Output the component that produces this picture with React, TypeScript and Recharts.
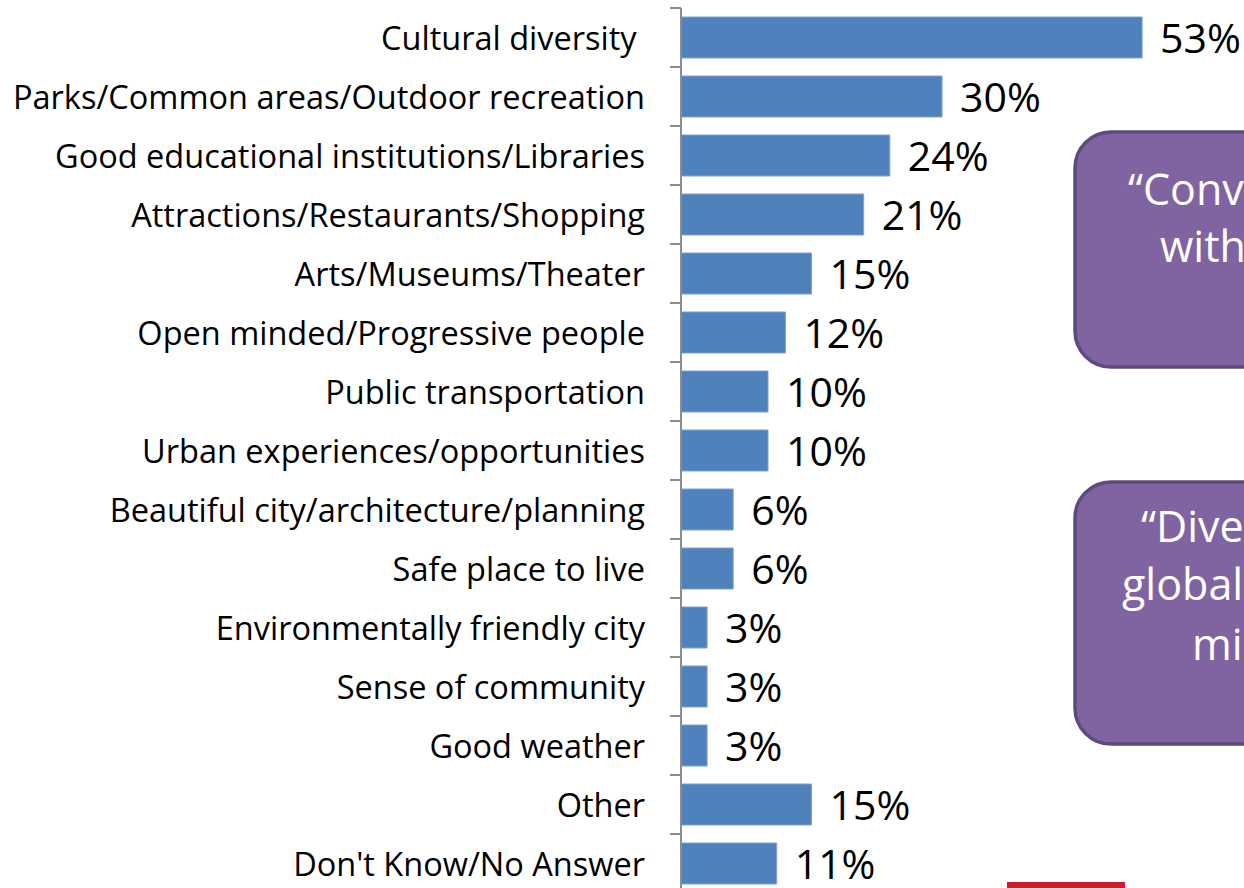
import { BarChart, Bar, XAxis, YAxis, LabelList } from "recharts";

const categories = [
  "Cultural diversity ",
  "Parks/Common areas/Outdoor recreation",
  "Good educational institutions/Libraries",
  "Attractions/Restaurants/Shopping",
  "Arts/Museums/Theater",
  "Open minded/Progressive people",
  "Public transportation",
  "Urban experiences/opportunities",
  "Beautiful city/architecture/planning",
  "Safe place to live",
  "Environmentally friendly city",
  "Sense of community",
  "Good weather",
  "Other",
  "Don't Know/No Answer",
];

const shares = [53, 30, 24, 21, 15, 12, 10, 10, 6, 6, 3, 3, 3, 15, 11];

const data = categories.map((name, i) => ({ name, value: shares[i] }));

const FONT = "'Open Sans', sans-serif";
const CHART_H = 900;
const TOP = 8;
const BOTTOM = 7;
const band = (CHART_H - TOP - BOTTOM) / categories.length;

function CategoryTick(props: any) {
  const { x, y, payload } = props;
  return (
    <g>
      <line x1={x - 11} x2={x} y1={y - band / 2} y2={y - band / 2} stroke="#8c8c8c" strokeWidth={2} />
      <text
        x={x - 36}
        y={y}
        textAnchor="end"
        dominantBaseline="central"
        fontFamily={FONT}
        fontSize={32.5}
        fill="#000"
        style={{ whiteSpace: "pre" }}
      >
        {payload.value}
      </text>
    </g>
  );
}

export default function App() {
  return (
    <div style={{ position: "absolute", left: 0, top: 0, width: 1244, height: 888, overflow: "hidden", background: "#fff" }}>
      <BarChart
        width={1244}
        height={CHART_H}
        data={data}
        layout="vertical"
        margin={{ top: TOP, right: 41, bottom: BOTTOM, left: 0 }}
      >
        <XAxis type="number" domain={[0, 60]} hide />
        <YAxis
          type="category"
          dataKey="name"
          width={681}
          axisLine={{ stroke: "#8c8c8c", strokeWidth: 2 }}
          tickLine={false}
          tickSize={0}
          tickMargin={0}
          tick={<CategoryTick />}
          interval={0}
        />
        <Bar dataKey="value" fill="#4F81BD" stroke="#7EA2D0" strokeWidth={1} barSize={41} isAnimationActive={false}>
          <LabelList
            dataKey="value"
            position="right"
            offset={18}
            dy={1}
            formatter={(v: any) => `${v}%`}
            style={{ fontFamily: FONT, fontSize: 41, fill: "#000" }}
          />
        </Bar>
      </BarChart>
      <svg width={1244} height={888} style={{ position: "absolute", left: 0, top: 0, pointerEvents: "none" }}>
        <rect x={1075} y={132} width={300} height={235} rx={36} fill="#8064A2" stroke="#5F4A7E" strokeWidth={3.5} />
        <text fontFamily={FONT} fontSize={43} fill="#fff">
          <tspan x={1128} y={205}>“Convenient</tspan>
          <tspan x={1160} y={262}>with easy</tspan>
        </text>
        <rect x={1075} y={482} width={300} height={262} rx={36} fill="#8064A2" stroke="#5F4A7E" strokeWidth={3.5} />
        <text fontFamily={FONT} fontSize={43} fill="#fff">
          <tspan x={1141} y={542}>“Diverse,</tspan>
          <tspan x={1122} y={600}>global and open</tspan>
          <tspan x={1192} y={660}>minded</tspan>
        </text>
        <rect x={1007} y={882} width={118} height={10} fill="#C9202F" />
      </svg>
    </div>
  );
}
